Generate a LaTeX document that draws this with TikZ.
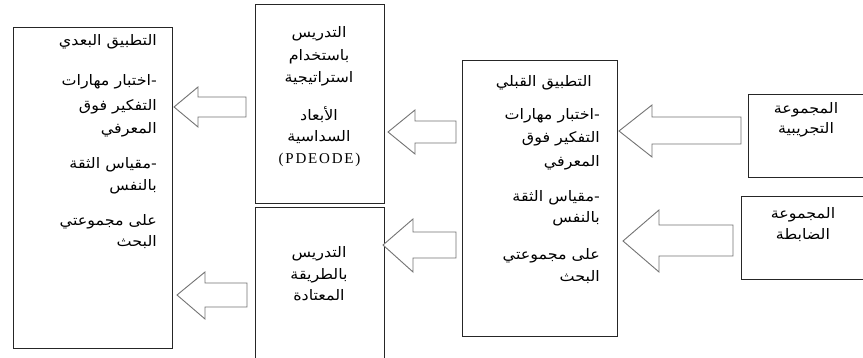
\documentclass[tikz,border=0pt]{standalone}
\usepackage{fontspec}
\setmainfont{Liberation Serif}
\TeXXeTstate=1
\newfontfamily\arabicfont[Script=Arabic,FakeStretch=1.1]{DejaVu Sans}
\newfontfamily\latfont[LetterSpace=12]{Liberation Serif}
\newcommand{\artx}[1]{\beginR #1\endR}
\begin{document}
\begin{tikzpicture}[x=1pt,y=-1pt,
  boxA/.style={draw=black!85, line width=0.9pt, inner sep=0pt, anchor=north west},
  blockarrow/.style={draw=black!55, fill=white, line width=0.9pt, line join=miter},
  arline/.style={inner sep=0pt, font=\arabicfont\fontsize{14.5}{17}\selectfont},
  rline/.style={arline, anchor=base east},
  cline/.style={arline, anchor=base},
  latline/.style={inner sep=0pt, anchor=base, font=\latfont\fontsize{15}{18}\selectfont}
]
\useasboundingbox (0,0) rectangle (863,358);

% boxes
\node[boxA, minimum width=159pt, minimum height=321pt] (post) at (13,27) {};
\node[boxA, minimum width=129pt, minimum height=199pt] (pdeode) at (255,4) {};
\node[boxA, minimum width=129pt, minimum height=151pt] (usual) at (255,207) {};
\node[boxA, minimum width=155pt, minimum height=276pt] (pre) at (462,60) {};
\node[boxA, minimum width=120pt, minimum height=83pt] (exp) at (748,94) {};
\node[boxA, minimum width=127pt, minimum height=83pt] (ctrl) at (741,196) {};

% post-test text
\node[rline] (post1) at (157,46) {\artx{التطبيق البعدي}};
\node[rline] (post2) at (157,86) {\artx{-اختبار مهارات}};
\node[rline] (post3) at (157,111) {\artx{التفكير فوق}};
\node[rline] (post4) at (157,134) {\artx{المعرفي}};
\node[rline] (post5) at (157,169) {\artx{-مقياس الثقة}};
\node[rline] (post6) at (157,191) {\artx{بالنفس}};
\node[rline] (post7) at (157,226) {\artx{على مجموعتي}};
\node[rline] (post8) at (157,247) {\artx{البحث}};

% PDEODE text
\node[cline] (pd1) at (319,38) {\artx{التدريس}};
\node[cline] (pd2) at (319,61) {\artx{باستخدام}};
\node[cline] (pd3) at (319,83) {\artx{استراتيجية}};
\node[cline] (pd4) at (319,121) {\artx{الأبعاد}};
\node[cline] (pd5) at (319,142) {\artx{السداسية}};
\node[latline] (pd6) at (319.5,164) {(PDEODE)};

% usual teaching text
\node[cline] (us1) at (319,258) {\artx{التدريس}};
\node[cline] (us2) at (319,280) {\artx{بالطريقة}};
\node[cline] (us3) at (319,301) {\artx{المعتادة}};

% pre-test text
\node[rline] (pre1) at (592,87) {\artx{التطبيق القبلي}};
\node[rline] (pre2) at (600,120) {\artx{-اختبار مهارات}};
\node[rline] (pre3) at (600,143) {\artx{التفكير فوق}};
\node[rline] (pre4) at (600,167) {\artx{المعرفي}};
\node[rline] (pre5) at (600,202) {\artx{-مقياس الثقة}};
\node[rline] (pre6) at (600,223) {\artx{بالنفس}};
\node[rline] (pre7) at (600,260) {\artx{على مجموعتي}};
\node[rline] (pre8) at (600,282) {\artx{البحث}};

% groups
\node[cline] (ex1) at (806,114) {\artx{المجموعة}};
\node[cline] (ex2) at (806,134) {\artx{التجريبية}};
\node[cline] (ct1) at (803,219) {\artx{المجموعة}};
\node[cline] (ct2) at (803,240) {\artx{الضابطة}};

% block arrows
\draw[blockarrow] (174,107) -- (198,87) -- (198,97) -- (246,97) -- (246,117) -- (198,117) -- (198,127) -- cycle;
\draw[blockarrow] (177,295) -- (205,272) -- (205,283) -- (247,283) -- (247,307) -- (205,307) -- (205,319) -- cycle;
\draw[blockarrow] (388,132) -- (415,110) -- (415,121) -- (456,121) -- (456,143) -- (415,143) -- (415,154) -- cycle;
\draw[blockarrow] (383,245) -- (413,219) -- (413,232) -- (456,232) -- (456,258) -- (413,258) -- (413,272) -- cycle;
\draw[blockarrow] (619,131) -- (652,105) -- (652,117) -- (741,117) -- (741,144) -- (652,144) -- (652,157) -- cycle;
\draw[blockarrow] (623,241) -- (659,210) -- (659,225) -- (733,225) -- (733,256) -- (659,256) -- (659,272) -- cycle;
\end{tikzpicture}
\end{document}
